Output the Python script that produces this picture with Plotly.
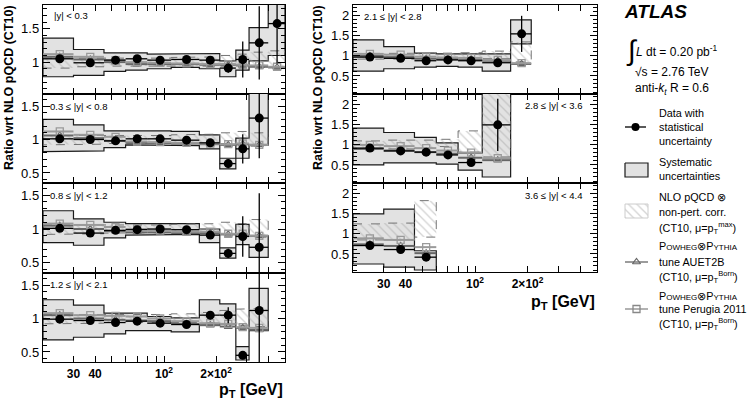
import math
import plotly.graph_objects as go

W, H = 749, 403
FONT = "Liberation Sans, Arial, Helvetica, sans-serif"

# ---------------- data ----------------
pt_edges = [20, 30, 45, 60, 80, 110, 160, 210, 260, 310, 400, 500]
pt_tick_vals = [20, 30, 40, 50, 60, 70, 80, 90, 100, 200, 300, 400, 500]
pt_tick_text = ["", "30", "40", "", "", "", "", "", "10<sup>2</sup>", "2×10<sup>2</sup>", "", "", ""]

# |y| < 0.3
y03_data = [1.05, 0.99, 1.03, 1.05, 1.03, 1.04, 1.03, 0.91, 1.04, 1.29, 1.58]
y03_stat = [0.01, 0.01, 0.01, 0.01, 0.01, 0.01, 0.02, 0.07, 0.27, 0.55, 0.60]
y03_sys_lo = [0.78, 0.80, 0.86, 0.88, 0.90, 0.92, 0.90, 0.78, 0.88, 1.02, 1.10]
y03_sys_hi = [1.36, 1.19, 1.14, 1.14, 1.12, 1.12, 1.13, 1.02, 1.18, 1.52, 1.90]
y03_nlo_lo = [0.91, 0.93, 0.94, 0.95, 0.95, 0.95, 0.95, 0.94, 0.93, 0.92, 0.90]
y03_nlo_hi = [1.06, 1.06, 1.05, 1.06, 1.06, 1.07, 1.08, 1.10, 1.12, 1.15, 1.17]
y03_auet = [1.08, 1.04, 1.00, 0.97, 0.97, 0.97, 0.96, 0.96, 0.95, 0.93, 0.92]
y03_perugia = [1.12, 1.08, 1.03, 1.00, 0.99, 0.98, 0.97, 0.97, 0.96, 0.95, 0.93]

# 0.3 <= |y| < 0.8
y08_data = [1.01, 1.00, 0.98, 1.01, 1.01, 0.99, 0.95, 0.64, 0.86, 1.32]
y08_stat = [0.01, 0.01, 0.01, 0.01, 0.01, 0.01, 0.02, 0.07, 0.22, 0.60]
y08_sys_lo = [0.82, 0.83, 0.88, 0.92, 0.92, 0.91, 0.86, 0.56, 0.72, 0.92]
y08_sys_hi = [1.30, 1.22, 1.13, 1.14, 1.13, 1.12, 1.07, 0.72, 1.02, 1.75]
y08_nlo_lo = [0.92, 0.93, 0.94, 0.95, 0.95, 0.95, 0.95, 0.94, 0.92, 0.90]
y08_nlo_hi = [1.06, 1.06, 1.05, 1.06, 1.06, 1.07, 1.08, 1.10, 1.12, 1.10]
y08_auet = [1.06, 1.02, 0.98, 0.95, 0.95, 0.94, 0.93, 0.92, 0.93, 0.92]
y08_perugia = [1.12, 1.07, 1.04, 0.97, 0.96, 0.95, 0.94, 0.93, 0.94, 0.92]

# 0.8 <= |y| < 1.2
y12_data = [1.01, 0.94, 0.98, 0.99, 1.00, 0.99, 0.91, 0.64, 0.89, 0.73]
y12_stat = [0.01, 0.01, 0.01, 0.01, 0.01, 0.01, 0.03, 0.07, 0.30, 0.80]
y12_sys_lo = [0.80, 0.76, 0.87, 0.91, 0.92, 0.92, 0.80, 0.57, 0.77, 0.58]
y12_sys_hi = [1.27, 1.15, 1.10, 1.08, 1.07, 1.08, 1.00, 0.72, 1.07, 0.90]
y12_nlo_lo = [0.92, 0.93, 0.94, 0.95, 0.95, 0.95, 0.94, 0.93, 0.90, 0.88]
y12_nlo_hi = [1.06, 1.06, 1.05, 1.06, 1.06, 1.07, 1.08, 1.10, 1.08, 1.14]
y12_auet = [1.05, 1.00, 0.97, 0.95, 0.95, 0.94, 0.94, 0.92, 0.92, 0.90]
y12_perugia = [1.08, 1.06, 1.03, 1.00, 0.98, 0.96, 0.96, 0.93, 0.93, 0.90]

# 1.2 <= |y| < 2.1
y21_data = [0.99, 0.97, 0.94, 0.96, 0.93, 0.91, 1.05, 1.05, 0.45, 1.12]
y21_stat = [0.01, 0.01, 0.01, 0.01, 0.01, 0.02, 0.06, 0.12, 0.06, 0.80]
y21_sys_lo = [0.68, 0.72, 0.77, 0.82, 0.82, 0.80, 0.90, 0.92, 0.38, 0.82]
y21_sys_hi = [1.28, 1.20, 1.08, 1.08, 1.03, 1.01, 1.28, 1.22, 0.58, 1.45]
y21_nlo_lo = [0.92, 0.93, 0.94, 0.95, 0.95, 0.95, 0.94, 0.92, 0.90, 0.88]
y21_nlo_hi = [1.06, 1.06, 1.05, 1.06, 1.06, 1.07, 1.09, 1.12, 1.14, 1.15]
y21_auet = [1.05, 1.00, 0.98, 0.97, 0.96, 0.92, 0.90, 0.88, 0.86, 0.83]
y21_perugia = [1.08, 1.05, 1.04, 1.03, 1.00, 0.96, 0.93, 0.92, 0.87, 0.86]

# 2.1 <= |y| < 2.8
y28_data = [0.97, 0.94, 0.88, 0.90, 0.88, 0.83, 1.55]
y28_stat = [0.01, 0.01, 0.01, 0.02, 0.03, 0.05, 0.45]
y28_sys_lo = [0.62, 0.68, 0.72, 0.74, 0.72, 0.62, 1.30]
y28_sys_hi = [1.40, 1.23, 1.07, 1.05, 1.04, 1.05, 1.90]
y28_nlo_lo = [0.92, 0.92, 0.93, 0.94, 0.94, 0.93, 0.85]
y28_nlo_hi = [1.06, 1.06, 1.07, 1.07, 1.08, 1.12, 1.35]
y28_auet = [1.00, 0.97, 0.93, 0.92, 0.91, 0.88, 0.80]
y28_perugia = [1.05, 1.03, 0.98, 0.96, 0.95, 0.90, 0.82]

# 2.8 <= |y| < 3.6
y36_data = [0.92, 0.85, 0.82, 0.75, 0.56, 1.50]
y36_stat = [0.02, 0.02, 0.02, 0.03, 0.05, 0.65]
y36_sys_lo = [0.50, 0.55, 0.55, 0.52, 0.37, 0.20]
y36_sys_hi = [1.42, 1.31, 1.19, 1.05, 0.80, 2.30]
y36_nlo_lo = [0.90, 0.90, 0.92, 0.96, 0.82, 0.70]
y36_nlo_hi = [1.10, 1.12, 1.12, 1.14, 1.35, 2.30]
y36_auet = [0.90, 0.86, 0.82, 0.78, 0.68, 0.62]
y36_perugia = [1.00, 0.97, 0.92, 0.86, 0.81, 0.67]

# 3.6 <= |y| < 4.4
y44_data = [0.71, 0.61, 0.42]
y44_stat = [0.02, 0.03, 0.06]
y44_sys_lo = [0.25, 0.17, 0.10]
y44_sys_hi = [1.50, 1.62, 0.58]
y44_nlo_lo = [0.85, 0.85, 0.92]
y44_nlo_hi = [1.25, 1.27, 1.83]
y44_auet = [0.74, 0.70, 0.52]
y44_perugia = [0.89, 0.85, 0.67]

panel_labels = ["|y| < 0.3", "0.3 ≤ |y| < 0.8", "0.8 ≤ |y| < 1.2", "1.2 ≤ |y| < 2.1",
                "2.1 ≤ |y| < 2.8", "2.8 ≤ |y| < 3.6", "3.6 ≤ |y| < 4.4"]

series = [
    (y03_data, y03_stat, y03_sys_lo, y03_sys_hi, y03_nlo_lo, y03_nlo_hi, y03_auet, y03_perugia),
    (y08_data, y08_stat, y08_sys_lo, y08_sys_hi, y08_nlo_lo, y08_nlo_hi, y08_auet, y08_perugia),
    (y12_data, y12_stat, y12_sys_lo, y12_sys_hi, y12_nlo_lo, y12_nlo_hi, y12_auet, y12_perugia),
    (y21_data, y21_stat, y21_sys_lo, y21_sys_hi, y21_nlo_lo, y21_nlo_hi, y21_auet, y21_perugia),
    (y28_data, y28_stat, y28_sys_lo, y28_sys_hi, y28_nlo_lo, y28_nlo_hi, y28_auet, y28_perugia),
    (y36_data, y36_stat, y36_sys_lo, y36_sys_hi, y36_nlo_lo, y36_nlo_hi, y36_auet, y36_perugia),
    (y44_data, y44_stat, y44_sys_lo, y44_sys_hi, y44_nlo_lo, y44_nlo_hi, y44_auet, y44_perugia),
]

# ---------------- layout geometry (pixels) ----------------
LEFT_X = (43, 285)
RIGHT_X = (353, 597)
geom = [
    (LEFT_X, (5, 94), (0.52, 1.86), False),
    (LEFT_X, (94, 183), (0.35, 1.68), False),
    (LEFT_X, (183, 273), (0.35, 1.68), False),
    (LEFT_X, (273, 362), (0.35, 1.68), True),
    (RIGHT_X, (5, 94), (0.05, 2.27), False),
    (RIGHT_X, (94, 183), (0.05, 2.27), False),
    (RIGHT_X, (183, 272), (0.05, 2.27), True),
]
label_pos = [(52, 15, "left"), (48, 106, "left"), (48, 195, "left"), (48, 284, "left"),
             (362, 16, "left"), (584, 105, "right"), (584, 196, "right")]


def px(x):
    return x / W


def py(y):
    return 1 - y / H


def step_poly(edges, lo, hi):
    n = len(lo)
    xs, ys = [], []
    for i in range(n):
        xs += [edges[i], edges[i + 1]]
        ys += [hi[i], hi[i]]
    for i in reversed(range(n)):
        xs += [edges[i + 1], edges[i]]
        ys += [lo[i], lo[i]]
    xs.append(xs[0])
    ys.append(ys[0])
    return xs, ys


fig = go.Figure()
layout = dict(
    width=W, height=H, autosize=False,
    margin=dict(l=0, r=0, t=0, b=0),
    paper_bgcolor="white", plot_bgcolor="rgba(0,0,0,0)",
    showlegend=False,
    font=dict(family=FONT, color="black", size=12),
)
annotations = []

for i, (s, g) in enumerate(zip(series, geom)):
    data, stat, slo, shi, nlo, nhi, auet, peru = s
    (x0, x1), (ya, yb), yr, bottom = g
    k = "" if i == 0 else str(i + 1)
    xa, ya_name = "x" + k, "y" + k
    n = len(data)
    lo_e = pt_edges[:n]
    hi_e = pt_edges[1:n + 1]
    mid = [(a + b) / 2 for a, b in zip(lo_e, hi_e)]
    ex_p = [b - m for b, m in zip(hi_e, mid)]
    ex_m = [m - a for a, m in zip(lo_e, mid)]

    sx, sy = step_poly(pt_edges, slo, shi)
    fig.add_trace(go.Scatter(x=sx, y=sy, xaxis=xa, yaxis=ya_name, mode="lines",
                             fill="toself", fillcolor="#e2e2e2",
                             line=dict(color="#1a1a1a", width=1.2), hoverinfo="skip"))
    nx, ny = step_poly(pt_edges, nlo, nhi)
    fig.add_trace(go.Scatter(x=nx, y=ny, xaxis=xa, yaxis=ya_name, mode="lines",
                             fill="toself", fillcolor="rgba(255,255,255,0)",
                             fillpattern=dict(shape="\\", fgcolor="#a8a8a8", bgcolor="rgba(255,255,255,0)",
                                              size=6, solidity=0.22),
                             line=dict(color="#666666", width=0.9, dash="dash"), hoverinfo="skip"))
    fig.add_trace(go.Scatter(x=mid, y=auet, xaxis=xa, yaxis=ya_name, mode="markers",
                             marker=dict(symbol="triangle-up-open", size=7, color="#666666",
                                         line=dict(width=1.2, color="#666666")),
                             error_x=dict(type="data", symmetric=False, array=ex_p, arrayminus=ex_m,
                                          color="#666666", thickness=2, width=0),
                             hoverinfo="skip"))
    fig.add_trace(go.Scatter(x=mid, y=peru, xaxis=xa, yaxis=ya_name, mode="markers",
                             marker=dict(symbol="square-open", size=7, color="#9a9a9a",
                                         line=dict(width=1.3, color="#9a9a9a")),
                             error_x=dict(type="data", symmetric=False, array=ex_p, arrayminus=ex_m,
                                          color="#9a9a9a", thickness=2, width=0),
                             hoverinfo="skip"))
    fig.add_trace(go.Scatter(x=mid, y=data, xaxis=xa, yaxis=ya_name, mode="markers",
                             marker=dict(symbol="circle", size=9, color="black"),
                             error_x=dict(type="data", symmetric=False, array=ex_p, arrayminus=ex_m,
                                          color="black", thickness=1.3, width=0),
                             error_y=dict(type="data", array=stat, color="black", thickness=1.3, width=0),
                             hoverinfo="skip"))

    layout["xaxis" + k] = dict(
        domain=[px(x0), px(x1)], anchor=ya_name, type="log",
        range=[math.log10(pt_edges[0]), math.log10(pt_edges[-1])],
        tickmode="array", tickvals=pt_tick_vals, ticktext=pt_tick_text,
        ticks="inside", ticklen=6, tickwidth=1, tickcolor="black",
        showline=True, linecolor="black", linewidth=1.4, mirror="allticks",
        showgrid=False, zeroline=False, showticklabels=bottom,
        tickfont=dict(family=FONT, size=12, color="black", weight="bold"),
    )
    layout["yaxis" + k] = dict(
        domain=[py(yb), py(ya)], anchor=xa, range=list(yr),
        tickmode="linear", tick0=0, dtick=0.5,
        ticks="inside", ticklen=7, tickwidth=1, tickcolor="black",
        minor=dict(ticks="inside", dtick=0.1, tick0=0, ticklen=3.5, tickcolor="black", tickwidth=1),
        showline=True, linecolor="black", linewidth=1.4, mirror="allticks",
        showgrid=False, zeroline=False,
        tickfont=dict(family=FONT, size=13, color="black"),
    )
    lx, ly, al = label_pos[i]
    annotations.append(dict(text=panel_labels[i], x=px(lx), y=py(ly), xref="paper", yref="paper",
                            xanchor=al, yanchor="middle", showarrow=False,
                            font=dict(family=FONT, size=9.5, color="black")))

# axis titles
for xt in (9, 318):
    annotations.append(dict(text="<b>Ratio wrt NLO pQCD (CT10)</b>", x=px(xt), y=py(88),
                            xref="paper", yref="paper", xanchor="center", yanchor="middle",
                            textangle=-90, showarrow=False, font=dict(family=FONT, size=12.5, color="black")))
for xr, yt in ((285, 390), (597, 302)):
    annotations.append(dict(text="<b>p<sub>T</sub> [GeV]</b>", x=px(xr), y=py(yt),
                            xref="paper", yref="paper", xanchor="right", yanchor="middle",
                            showarrow=False, font=dict(family=FONT, size=16, color="black")))

# ---------------- legend block (decoration) ----------------
LEG = dict(xaxis="x8", yaxis="y8", hoverinfo="skip")
layout["xaxis8"] = dict(domain=[0, 1], range=[0, W], visible=False, fixedrange=True, anchor="y8")
layout["yaxis8"] = dict(domain=[0, 1], range=[H, 0], visible=False, fixedrange=True, anchor="x8")

fig.add_trace(go.Scatter(x=[625, 646], y=[127, 127], mode="lines", line=dict(color="black", width=1.3), **LEG))
fig.add_trace(go.Scatter(x=[635.5], y=[127], mode="markers", marker=dict(symbol="circle", size=8, color="black"), **LEG))
fig.add_trace(go.Scatter(x=[625, 648, 648, 625, 625], y=[163, 163, 177, 177, 163], mode="lines", fill="toself",
                         fillcolor="#e2e2e2", line=dict(color="#1a1a1a", width=1.2), **LEG))
fig.add_trace(go.Scatter(x=[625, 648, 648, 625, 625], y=[204, 204, 218, 218, 204], mode="lines", fill="toself",
                         fillcolor="rgba(255,255,255,0)",
                         fillpattern=dict(shape="\\", fgcolor="#a8a8a8", bgcolor="rgba(255,255,255,0)", size=6, solidity=0.22),
                         line=dict(color="#cccccc", width=1), **LEG))
fig.add_trace(go.Scatter(x=[625, 648], y=[262, 262], mode="lines", line=dict(color="#666666", width=1.3), **LEG))
fig.add_trace(go.Scatter(x=[636.5], y=[262], mode="markers",
                         marker=dict(symbol="triangle-up-open", size=7, color="#666666", line=dict(width=1.2, color="#666666")), **LEG))
fig.add_trace(go.Scatter(x=[625, 648], y=[309, 309], mode="lines", line=dict(color="#888888", width=1.3), **LEG))
fig.add_trace(go.Scatter(x=[636.5], y=[309], mode="markers",
                         marker=dict(symbol="square-open", size=7, color="#888888", line=dict(width=1.3, color="#888888")), **LEG))


def text(t, x, y, size=12, anchor="left", **kw):
    annotations.append(dict(text=t, x=px(x), y=py(y), xref="paper", yref="paper", xanchor=anchor,
                            yanchor="middle", showarrow=False, font=dict(family=FONT, size=size, color="black"), **kw))


text("<b><i>ATLAS</i></b>", 622, 11, size=19)
text("∫", 624, 50, size=28)
text("<i>L</i> dt = 0.20 pb<sup>-1</sup>", 634, 51, size=12)
text("√s = 2.76 TeV", 671, 72, size=12, anchor="center")
text("anti-<i>k<sub>t</sub></i> R = 0.6", 672, 89, size=12, anchor="center")
sc = "<span style='font-size:8px'>"
lines = [
    ("Data with", 113), ("statistical", 127), ("uncertainty", 141),
    ("Systematic", 162), ("uncertainties", 176),
    ("NLO pQCD ⊗", 197), ("non-pert. corr.", 212), ("(CT10, μ=p<sub>T</sub><sup>max</sup>)", 228),
    ("P" + sc + "OWHEG</span>⊗P" + sc + "YTHIA</span>", 246), ("tune AUET2B", 262),
    ("(CT10, μ=p<sub>T</sub><sup>Born</sup>)", 277),
    ("P" + sc + "OWHEG</span>⊗P" + sc + "YTHIA</span>", 296), ("tune Perugia 2011", 309),
    ("(CT10, μ=p<sub>T</sub><sup>Born</sup>)", 324),
]
for t, yv in lines:
    text(t, 657, yv, size=10.8)

layout["annotations"] = annotations
fig.update_layout(**layout)
fig.write_html("out.html", config={"displayModeBar": False},
               post_script="document.body.style.margin='0';")
